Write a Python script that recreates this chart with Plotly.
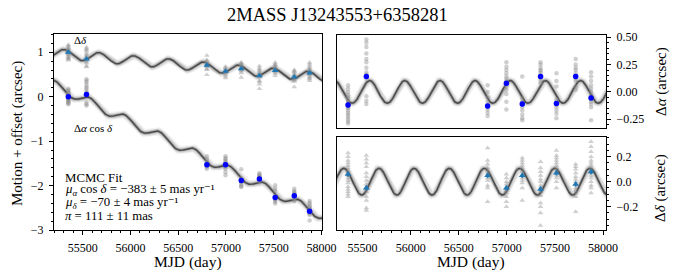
import numpy as np
import plotly.graph_objects as go

# ---------------- data ----------------
title_text = "2MASS J13243553+6358281"

epoch_mjd = [55350, 55540, 56800, 56995, 57160, 57350, 57515, 57715, 57875]

# epoch means, left panel (motion + offset, arcsec)
ra_mean = [0.0, 0.05, -1.53, -1.53, -1.885, -1.855, -2.27, -2.23, -2.58]
dec_mean_off = [1.0, 0.85, 0.705, 0.57, 0.63, 0.47, 0.59, 0.44, 0.53]

# epoch means, right panels (parallax residuals, arcsec)
ra_res_mean = [-0.12, 0.14, -0.13, 0.08, -0.11, 0.14, -0.105, 0.14, -0.055]
dec_res_mean = [0.06, -0.05, 0.05, -0.05, 0.05, -0.06, 0.07, -0.02, 0.08]
mean_err = [0.02, 0.02, 0.02, 0.02, 0.02, 0.02, 0.02, 0.02, 0.02]

# individual frames (parallax residuals, arcsec)
ra_frames = [
    [0.06, 0.03, 0.0, -0.03, -0.05, -0.07, -0.09, -0.1, -0.11, -0.12, -0.13, -0.14,
     -0.15, -0.17, -0.19, -0.21, -0.23, -0.25, -0.27, -0.29],
    [0.48, 0.45, 0.41, 0.35, 0.30, 0.27, 0.22, 0.18, 0.16, 0.14, 0.12, -0.04, -0.08, -0.11],
    [0.06, 0.0, -0.05, -0.09, -0.12, -0.14, -0.16, -0.19, -0.22],
    [0.27, 0.23, 0.2, 0.17, 0.14, 0.12, 0.1, 0.08, 0.05, 0.02, -0.02, -0.09, -0.16],
    [0.14, -0.06, -0.09, -0.1, -0.12, -0.14, -0.17, -0.21, -0.24, -0.26],
    [0.27, 0.25, 0.22, 0.2, 0.19, 0.17, 0.15, 0.14, 0.12, 0.1, 0.08],
    [0.17, 0.1, 0.05, -0.07, -0.09, -0.1, -0.12, -0.14, -0.17, -0.2, -0.24],
    [0.3, 0.25, 0.22, 0.2, 0.17, 0.15, 0.14, 0.12, 0.1, 0.05, 0.02],
    [0.18, 0.14, 0.1, 0.06, 0.03, 0.0, -0.03, -0.05, -0.07, -0.09, -0.11, -0.14, -0.26],
]
dec_frames = [
    [0.23, 0.2, 0.17, 0.15, 0.13, 0.11, 0.09, 0.07, 0.06, 0.05, 0.03, 0.01, -0.01,
     -0.04, -0.06, -0.08, -0.1, -0.12],
    [0.21, 0.18, 0.15, 0.12, 0.07, 0.04, 0.01, -0.02, -0.05, -0.08, -0.12, -0.15, -0.21, -0.23],
    [0.27, 0.17, 0.14, 0.11, 0.09, 0.07, 0.05, 0.03, 0.01, -0.03, -0.05, -0.16],
    [0.06, 0.03, 0.0, -0.02, -0.05, -0.07, -0.09, -0.12, -0.16, -0.2],
    [0.19, 0.17, 0.15, 0.13, 0.11, 0.08, 0.05, 0.03, 0.01, -0.01, -0.05, -0.15],
    [0.16, 0.11, 0.08, 0.05, 0.02, 0.0, -0.03, -0.05, -0.08, -0.11, -0.17, -0.2, -0.25, -0.35],
    [0.25, 0.21, 0.19, 0.17, 0.15, 0.13, 0.11, 0.09, 0.07, 0.05, 0.03, 0.0, -0.05],
    [0.14, 0.12, 0.1, 0.07, 0.04, 0.02, 0.0, -0.02, -0.05, -0.07, -0.09, -0.12, -0.24],
    [0.32, 0.28, 0.24, 0.2, 0.17, 0.15, 0.13, 0.11, 0.09, 0.07, 0.05, 0.03, 0.0,
     -0.03, -0.05, -0.09],
]

# MCMC fit parameters (from the annotation) and target coordinates
mu_ra = -0.383   # arcsec / yr
mu_dec = -0.070  # arcsec / yr
plx = 0.111      # arcsec
ra_deg = 201.148
dec_deg = 63.9745
t_ref = 55350.0
ra_ref = 0.11
dec_ref = 0.945

x_ticks = [55500, 56000, 56500, 57000, 57500, 58000]
left_yticks = [-3, -2, -1, 0, 1]
ra_yticks = [-0.25, 0.0, 0.25, 0.5]
dec_yticks = [-0.2, 0.0, 0.2]

# ---------------- model ----------------
def parallax_factors(mjd):
    mjd = np.asarray(mjd, dtype=float)
    d = mjd - 51544.5
    L = np.radians((280.460 + 0.9856474 * d) % 360)
    g = np.radians((357.528 + 0.9856003 * d) % 360)
    lam = L + np.radians(1.915) * np.sin(g) + np.radians(0.020) * np.sin(2 * g)
    eps = np.radians(23.439)
    X = -np.cos(lam)
    Y = -np.sin(lam) * np.cos(eps)
    Z = -np.sin(lam) * np.sin(eps)
    a = np.radians(ra_deg)
    dd = np.radians(dec_deg)
    pa = X * np.sin(a) - Y * np.cos(a)
    pd = X * np.cos(a) * np.sin(dd) + Y * np.sin(a) * np.sin(dd) - Z * np.cos(dd)
    return pa, pd

t_model = np.arange(55150, 58080, 3.0)
pa_m, pd_m = parallax_factors(t_model)
ra_par = plx * pa_m
dec_par = plx * pd_m
ra_tot = ra_ref + mu_ra * (t_model - t_ref) / 365.25 + ra_par
dec_tot = dec_ref + mu_dec * (t_model - t_ref) / 365.25 + dec_par

# frames shifted into the left panel
ra_frames_left = [[v - ra_res_mean[i] + ra_mean[i] for v in fr] for i, fr in enumerate(ra_frames)]
dec_frames_left = [[v - dec_res_mean[i] + dec_mean_off[i] for v in fr] for i, fr in enumerate(dec_frames)]

def flat(frames):
    xs, ys = [], []
    for i, fr in enumerate(frames):
        xs += [epoch_mjd[i]] * len(fr)
        ys += fr
    return xs, ys

fig = go.Figure()

def add_curve(x, y, xa, ya):
    for w, c in [(8, "rgba(130,130,130,0.10)"), (5.5, "rgba(120,120,120,0.20)"),
                 (3.2, "rgba(100,100,100,0.40)"), (1.5, "rgba(70,70,70,0.95)")]:
        fig.add_trace(go.Scatter(x=x, y=y, mode="lines", line=dict(color=c, width=w),
                                 xaxis=xa, yaxis=ya, hoverinfo="skip", showlegend=False))

GRAY = "rgba(140,140,140,0.42)"
BLUE = "#0000ff"
TAB = "#1f77b4"

def add_gray(frames, sym, xa, ya):
    xs, ys = flat(frames)
    fig.add_trace(go.Scatter(x=xs, y=ys, mode="markers",
                             marker=dict(color=GRAY, size=4.5 if sym == "circle" else 5,
                                         symbol=sym, line=dict(width=0)),
                             xaxis=xa, yaxis=ya, showlegend=False))

def add_mean(y, sym, col, xa, ya):
    fig.add_trace(go.Scatter(x=epoch_mjd, y=y, mode="markers",
                             marker=dict(color=col, size=5.5 if sym == "circle" else 6,
                                         symbol=sym, line=dict(width=0)),
                             error_y=dict(type="data", array=mean_err, color=col, thickness=1.5, width=0),
                             xaxis=xa, yaxis=ya, showlegend=False))

# left panel
add_curve(t_model, dec_tot, "x", "y")
add_curve(t_model, ra_tot, "x", "y")
add_gray(dec_frames_left, "triangle-up", "x", "y")
add_gray(ra_frames_left, "circle", "x", "y")
add_mean(dec_mean_off, "triangle-up", TAB, "x", "y")
add_mean(ra_mean, "circle", BLUE, "x", "y")

# right top
add_curve(t_model, ra_par, "x2", "y2")
add_gray(ra_frames, "circle", "x2", "y2")
add_mean(ra_res_mean, "circle", BLUE, "x2", "y2")

# right bottom
add_curve(t_model, dec_par, "x3", "y3")
add_gray(dec_frames, "triangle-up", "x3", "y3")
add_mean(dec_res_mean, "triangle-up", TAB, "x3", "y3")

W, H = 674, 280
FONT = "Liberation Serif, DejaVu Serif, serif"
tickfont = dict(family=FONT, size=12, color="black")

def px_x(p):
    return p / W

def px_y(p):
    return 1 - p / H

axis_common = dict(showline=True, mirror=True, linecolor="black", linewidth=1,
                   showgrid=False, zeroline=False, ticks="outside", ticklen=4,
                   tickwidth=1, tickcolor="black", tickfont=tickfont, automargin=False,
                   ticklabelstandoff=3)

minor_x = dict(dtick=100, tick0=55000, ticklen=2, ticks="outside", tickcolor="black")

fig.update_layout(
    width=W, height=H, margin=dict(l=0, r=0, t=0, b=0, autoexpand=False),
    paper_bgcolor="white", plot_bgcolor="white", showlegend=False,
    xaxis=dict(domain=[px_x(54), px_x(322)], range=[55200, 58005], anchor="y",
               tickvals=x_ticks, tickformat="d", minor=minor_x, **axis_common),
    yaxis=dict(domain=[px_y(230), px_y(34)], range=[-3, 1.41], anchor="x",
               tickvals=left_yticks, tickformat="d",
               minor=dict(dtick=0.2, tick0=0, ticklen=2, ticks="outside", tickcolor="black"),
               **axis_common),
    xaxis2=dict(domain=[px_x(337), px_x(606)], range=[55235, 58030], anchor="y2",
                showticklabels=False, **{k: v for k, v in axis_common.items() if k != "ticks"},
                ticks=""),
    yaxis2=dict(domain=[px_y(128), px_y(35)], range=[-0.33, 0.52], anchor="x2", side="right",
                tickvals=ra_yticks, tickformat=".2f",
                minor=dict(dtick=0.05, tick0=0, ticklen=2, ticks="outside", tickcolor="black"),
                **axis_common),
    xaxis3=dict(domain=[px_x(337), px_x(606)], range=[55235, 58030], anchor="y3",
                tickvals=x_ticks, tickformat="d", minor=minor_x, **axis_common),
    yaxis3=dict(domain=[px_y(230), px_y(137)], range=[-0.386, 0.357], anchor="x3", side="right",
                tickvals=dec_yticks, tickformat=".1f",
                minor=dict(dtick=0.05, tick0=0, ticklen=2, ticks="outside", tickcolor="black"),
                **axis_common),
)

def ann(text, x, y, size, xanchor="center", yanchor="middle", angle=0):
    fig.add_annotation(text=text, x=px_x(x), y=px_y(y), xref="paper", yref="paper",
                       showarrow=False, xanchor=xanchor, yanchor=yanchor, textangle=angle,
                       borderpad=0, font=dict(family=FONT, size=size, color="black"))

ann(title_text, 337, 15, 18.5)
ann("MJD (day)", 188, 262, 15.5)
ann("MJD (day)", 471, 262, 15.5)
ann("Motion + offset (arcsec)", 17, 134, 15, angle=-90)
ann("Δ<i>α</i> (arcsec)", 661, 82, 15, angle=-90)
ann("Δ<i>δ</i> (arcsec)", 661, 188, 15, angle=-90)
ann("Δ<i>δ</i>", 73, 40, 11, xanchor="left")
ann("Δ<i>α</i> cos <i>δ</i>", 73, 128, 11, xanchor="left")
ann("MCMC Fit", 64, 177.5, 12.8, xanchor="left")
ann("<i>μ</i><sub><i>α</i></sub> cos <i>δ</i> = −383 ± 5 mas yr⁻¹", 64, 190, 12.8, xanchor="left")
ann("<i>μ</i><sub><i>δ</i></sub> = −70 ± 4 mas yr⁻¹", 64, 203, 12.8, xanchor="left")
ann("<i>π</i> = 111 ± 11 mas", 64, 216, 12.8, xanchor="left")

fig.write_html("out.html", config={"displayModeBar": False},
               post_script="document.body.style.margin='0';document.body.style.overflow='hidden';")
